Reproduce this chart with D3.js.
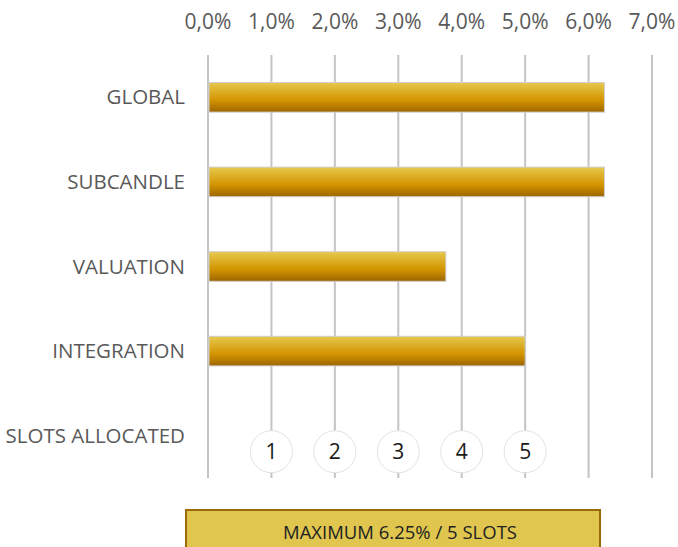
<!DOCTYPE html>
<html>
<head>
<meta charset="utf-8">
<script src="https://cdn.jsdelivr.net/npm/d3@7"></script>
<style>
  body { margin:0; background:#fff; }
  svg { display:block; font-family:"Open Sans",sans-serif; }
</style>
</head>
<body>
<div id="chart"></div>
<script>
// chart values
var categories = ["GLOBAL", "SUBCANDLE", "VALUATION", "INTEGRATION", "SLOTS ALLOCATED"];
var values = [6.25, 6.25, 3.75, 5.0];
var ticks = [0, 1, 2, 3, 4, 5, 6, 7];
var slots = [1, 2, 3, 4, 5];
var note = "MAXIMUM 6.25% / 5 SLOTS";

var W = 678, H = 547;
var m = {top: 55, left: 208, right: 26, bottom: 69};

var svg = d3.select("#chart").append("svg")
  .attr("width", W).attr("height", H);

var x = d3.scaleLinear().domain([0, 7]).range([m.left, W - m.right]);
var y = d3.scaleBand().domain(categories).range([m.top, H - m.bottom]).paddingInner(0.65).paddingOuter(0.325);

var defs = svg.append("defs");
var g = defs.append("linearGradient").attr("id", "gold")
  .attr("x1", 0).attr("y1", 0).attr("x2", 0).attr("y2", 1);
g.append("stop").attr("offset", "0%").attr("stop-color", "#e6c94e");
g.append("stop").attr("offset", "60%").attr("stop-color", "#d39400");
g.append("stop").attr("offset", "100%").attr("stop-color", "#9c6500");

// gridlines
svg.selectAll("line.grid")
  .data(ticks)
  .enter()
  .append("line")
  .attr("class", "grid")
  .attr("x1", function(d){ return x(d); })
  .attr("x2", function(d){ return x(d); })
  .attr("y1", m.top)
  .attr("y2", H - m.bottom)
  .attr("stroke", "#c4c4c4")
  .attr("stroke-width", 2);

// top axis labels
svg.selectAll("text.tick")
  .data(ticks)
  .enter()
  .append("text")
  .attr("class", "tick")
  .attr("x", function(d){ return x(d); })
  .attr("y", 22)
  .attr("dy", "0.35em")
  .attr("text-anchor", "middle")
  .attr("fill", "#595959")
  .attr("font-size", 21)
  .text(function(d){ return d.toFixed(1).replace(".", ",") + "%"; });

// category labels
svg.selectAll("text.cat")
  .data(categories)
  .enter()
  .append("text")
  .attr("class", "cat")
  .attr("x", 185)
  .attr("y", function(d){ return y(d) + y.bandwidth() / 2; })
  .attr("dy", "0.35em")
  .attr("text-anchor", "end")
  .attr("fill", "#595959")
  .attr("font-size", 20.5)
  .text(function(d){ return d; });

// bars
svg.selectAll("rect.bar")
  .data(values)
  .enter()
  .append("rect")
  .attr("class", "bar")
  .attr("x", x(0) + 1)
  .attr("y", function(d, i){ return y(categories[i]); })
  .attr("width", function(d){ return x(d) - x(0) - 1; })
  .attr("height", y.bandwidth())
  .attr("fill", "url(#gold)")
  .attr("stroke", "#cfcfcf")
  .attr("stroke-width", 1);

// slot circles
var sy = y("SLOTS ALLOCATED") + y.bandwidth() / 2 + 16;
var sg = svg.selectAll("g.slot")
  .data(slots)
  .enter()
  .append("g")
  .attr("class", "slot")
  .attr("transform", function(d){ return "translate(" + x(d) + "," + sy + ")"; });
sg.append("ellipse")
  .attr("rx", 21).attr("ry", 21)
  .attr("fill", "#fff")
  .attr("stroke", "#e2e2e2");
sg.append("text")
  .attr("dy", "0.36em")
  .attr("text-anchor", "middle")
  .attr("fill", "#1a1a1a")
  .attr("font-size", 21)
  .text(function(d){ return d; });

// note box
svg.append("rect")
  .attr("x", 186).attr("y", 510)
  .attr("width", 414).attr("height", 42)
  .attr("fill", "#e0c64f")
  .attr("stroke", "#9a6a08")
  .attr("stroke-width", 2);
svg.append("text")
  .attr("x", 400).attr("y", 533)
  .attr("dy", "0.35em")
  .attr("text-anchor", "middle")
  .attr("fill", "#222")
  .attr("font-size", 18.5)
  .text(note);
</script>
</body>
</html>
